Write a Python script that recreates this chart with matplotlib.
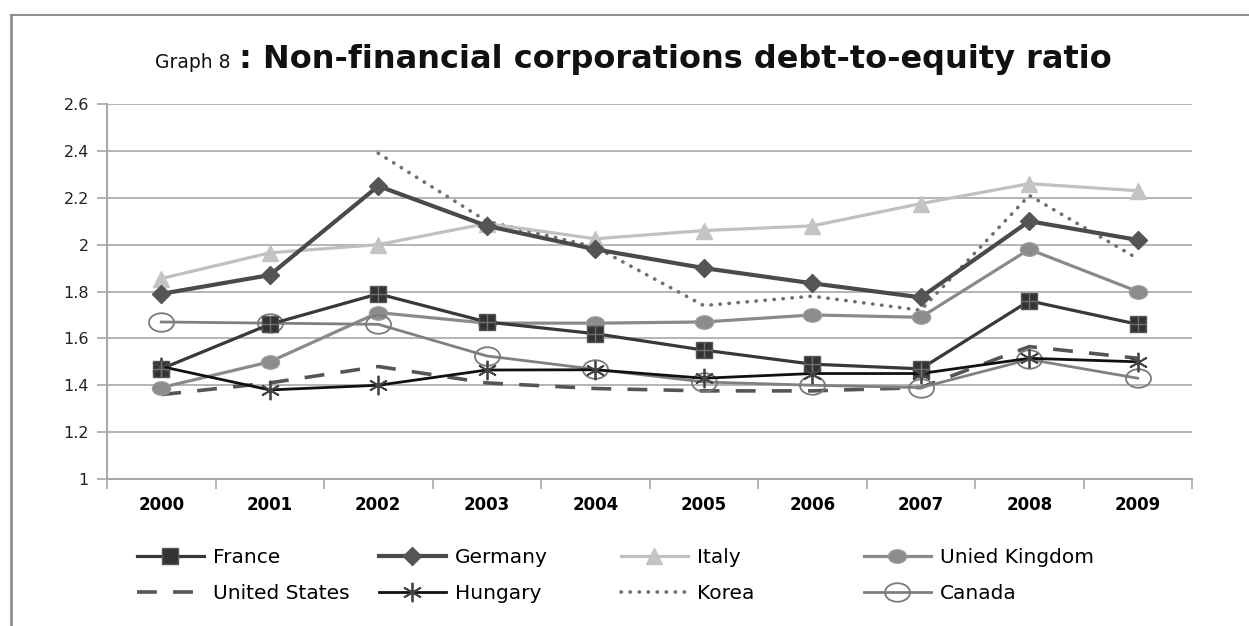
import numpy as np
import matplotlib
matplotlib.use('Agg')
from matplotlib import pyplot as plt
from matplotlib.lines import Line2D
from matplotlib.path import Path

# debt-to-equity ratios of non-financial corporations
years = ['2000', '2001', '2002', '2003', '2004', '2005', '2006', '2007', '2008', '2009']
france = [1.47, 1.66, 1.79, 1.67, 1.62, 1.55, 1.49, 1.47, 1.76, 1.66]
germany = [1.79, 1.87, 2.25, 2.08, 1.98, 1.90, 1.835, 1.775, 2.10, 2.02]
italy = [1.855, 1.965, 2.00, 2.09, 2.025, 2.06, 2.08, 2.175, 2.26, 2.23]
uk = [1.39, 1.50, 1.71, 1.665, 1.665, 1.67, 1.70, 1.69, 1.98, 1.80]
usa = [1.36, 1.41, 1.48, 1.41, 1.386, 1.376, 1.376, 1.39, 1.565, 1.515]
hungary = [1.48, 1.38, 1.40, 1.465, 1.466, 1.43, 1.45, 1.45, 1.515, 1.50]
korea = [np.nan, np.nan, 2.39, 2.10, 1.99, 1.74, 1.78, 1.72, 2.21, 1.94]
canada = [1.67, 1.665, 1.66, 1.525, 1.468, 1.414, 1.40, 1.39, 1.51, 1.43]

x = np.arange(len(years))

plt.rcParams['font.family'] = ['DejaVu Sans']

# slightly wide ellipse used for the round markers
circ = Path.unit_circle()
ellipse = Path(circ.vertices * [1.35, 1.0], circ.codes)

fig = plt.figure(figsize=(12.49, 6.26), dpi=100)
ax = fig.add_axes([107/1249, 1 - 479/626, 1085/1249, 375/626])

# grid and axes in the light gray office style
for y in np.arange(1.2, 2.61, 0.2):
    ax.axhline(y, color='#a8a8a8', lw=1.2, zorder=0)
for s in ['top', 'right']:
    ax.spines[s].set_visible(False)
ax.spines['left'].set_color('#a8a8a8')
ax.spines['bottom'].set_color('#a8a8a8')
ax.spines['left'].set_linewidth(1.5)
ax.spines['bottom'].set_linewidth(1.5)

ax.set_xlim(-0.5, 9.5)
ax.set_ylim(1, 2.6)
ax.set_yticks(np.arange(1, 2.61, 0.2))
ax.set_yticklabels(['1', '1.2', '1.4', '1.6', '1.8', '2', '2.2', '2.4', '2.6'], fontsize=11.5, color='#222222')
ax.tick_params(axis='y', length=7, color='#a8a8a8', width=1.2, pad=6)
ax.set_xticks(x)
ax.set_xticklabels(years, fontsize=12, fontweight='bold')
ax.tick_params(axis='x', which='major', length=0, pad=12)
ax.set_xticks(np.arange(-0.5, 10, 1), minor=True)
ax.tick_params(axis='x', which='minor', length=7, color='#a8a8a8', width=1.2)

# series
l_fr, = ax.plot(x, france, color='#383838', lw=2.3, marker='s', ms=11, mfc='#333333', mec='#555555', label='France', zorder=5)
ax.plot(x, france, ls='none', marker='+', ms=11, mew=1.0, color='#707070', zorder=6)
l_de, = ax.plot(x, germany, color='#4a4a4a', lw=3.0, marker='D', ms=9, mfc='#555555', mec='#555555', label='Germany', zorder=5)
l_it, = ax.plot(x, italy, color='#c0c0c0', lw=2.3, marker='^', ms=12, mfc='#c4c4c4', mec='#c4c4c4', label='Italy', zorder=4)
l_uk, = ax.plot(x, uk, color='#8a8a8a', lw=2.3, marker=ellipse, ms=13, mfc='#8c8c8c', mec='#9a9a9a', label='Unied Kingdom', zorder=4)
l_us, = ax.plot(x, usa, color='#555555', lw=2.6, ls=(0, (5.5, 4.5)), label='United States', zorder=3)
l_hu, = ax.plot(x, hungary, color='#111111', lw=2.0, marker=(6, 2, 0), ms=14, mec='#444444', mew=1.3, label='Hungary', zorder=5)
l_kr, = ax.plot(x, korea, color='#707070', lw=2.6, ls=(0, (0.1, 2.4)), dash_capstyle='round', label='Korea', zorder=3)
l_ca, = ax.plot(x, canada, color='#808080', lw=2.0, marker=ellipse, ms=18, mfc='none', mec='#7a7a7a', mew=1.3, label='Canada', zorder=4)

# title: small regular prefix followed by bold heading
fig.text(155/1249, 1 - 68/626, 'Graph 8', fontsize=13.5, color='#111111')
fig.text(239/1249, 1 - 68/626, ': Non-financial corporations debt-to-equity ratio',
         fontsize=23, fontweight='bold', color='#111111')

# legend laid out as four columns of two entries
handles = [l_fr, l_de, l_it, l_uk, l_us, l_hu, l_kr, l_ca]
col_x = [119, 361, 603, 846]
for i, cx in enumerate(col_x):
    fig.legend([handles[i], handles[i + 4]], [handles[i].get_label(), handles[i + 4].get_label()],
               loc='upper left', bbox_to_anchor=(cx/1249, 1 - 530/626), frameon=False,
               handlelength=3.3, handletextpad=0.45, labelspacing=0.85,
               prop={'size': 14.5})

# outer border on the top and left
fig.add_artist(Line2D([11/1249, 1], [1 - 15/626] * 2, color='#909090', lw=1.5))
fig.add_artist(Line2D([11/1249] * 2, [0, 1 - 15/626], color='#909090', lw=2))

fig.savefig('out.png', dpi=100)
